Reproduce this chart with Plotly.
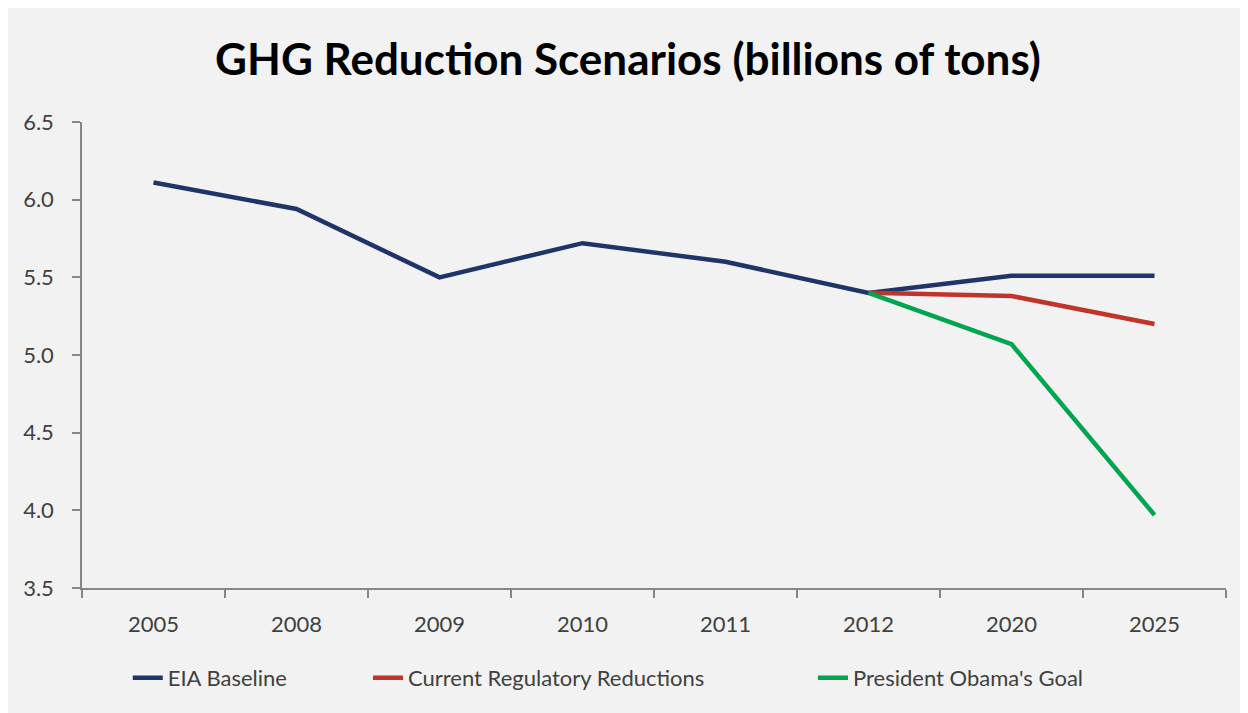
import plotly.graph_objects as go

years = ["2005", "2008", "2009", "2010", "2011", "2012", "2020", "2025"]
eia_baseline = [6.11, 5.94, 5.50, 5.72, 5.60, 5.40, 5.51, 5.51]
current_regulatory = [None, None, None, None, None, 5.40, 5.38, 5.20]
obama_goal = [None, None, None, None, None, 5.40, 5.07, 3.97]

series = [
    ("EIA Baseline", eia_baseline, "#1f3468", "legend", 0.040),
    ("Current Regulatory Reductions", current_regulatory, "#c0342a", "legend2", 0.250),
    ("President Obama's Goal", obama_goal, "#00a54f", "legend3", 0.639),
]

fig = go.Figure()
for name, vals, color, lg, _ in series:
    fig.add_trace(go.Scatter(x=years, y=vals, name=name, mode="lines", legend=lg,
                             line=dict(color=color, width=4.5)))

W, H = 1240, 705
L, R, T, B = 74, 22, 114, 125

axis_col = "#868686"
legend_common = dict(orientation="h", xanchor="left", y=-0.193, yanchor="middle",
                     font=dict(size=22, color="#404040"), bgcolor="rgba(0,0,0,0)")
legends = {}
for _, _, _, lg, xpos in series:
    legends[lg] = dict(x=xpos, **legend_common)

fig.update_layout(
    width=W, height=H,
    margin=dict(l=L, r=R, t=T, b=B),
    paper_bgcolor="#f2f2f2", plot_bgcolor="#f2f2f2",
    font=dict(family="Lato", size=22, color="#404040"),
    title=dict(text="<b>GHG Reduction Scenarios (billions of tons)</b>",
               x=0.5, xanchor="center", y=1 - 52 / H, yanchor="middle",
               font=dict(family="Lato", size=44, color="black")),
    showlegend=True,
    xaxis=dict(type="category", range=[-0.5, len(years) - 0.5], showgrid=False,
               showline=True, linecolor=axis_col, linewidth=1.5, ticks="outside",
               tickson="boundaries", ticklen=8, tickcolor=axis_col, tickwidth=1.5,
               zeroline=False, ticklabelstandoff=16),
    yaxis=dict(range=[3.5, 6.5], dtick=0.5, tickformat=".1f", showgrid=False,
               showline=True, linecolor=axis_col, linewidth=1.5, ticks="outside",
               ticklen=8, tickcolor=axis_col, tickwidth=1.5, zeroline=False,
               ticklabelstandoff=14),
    **legends,
)

fig.write_html("out.html")
